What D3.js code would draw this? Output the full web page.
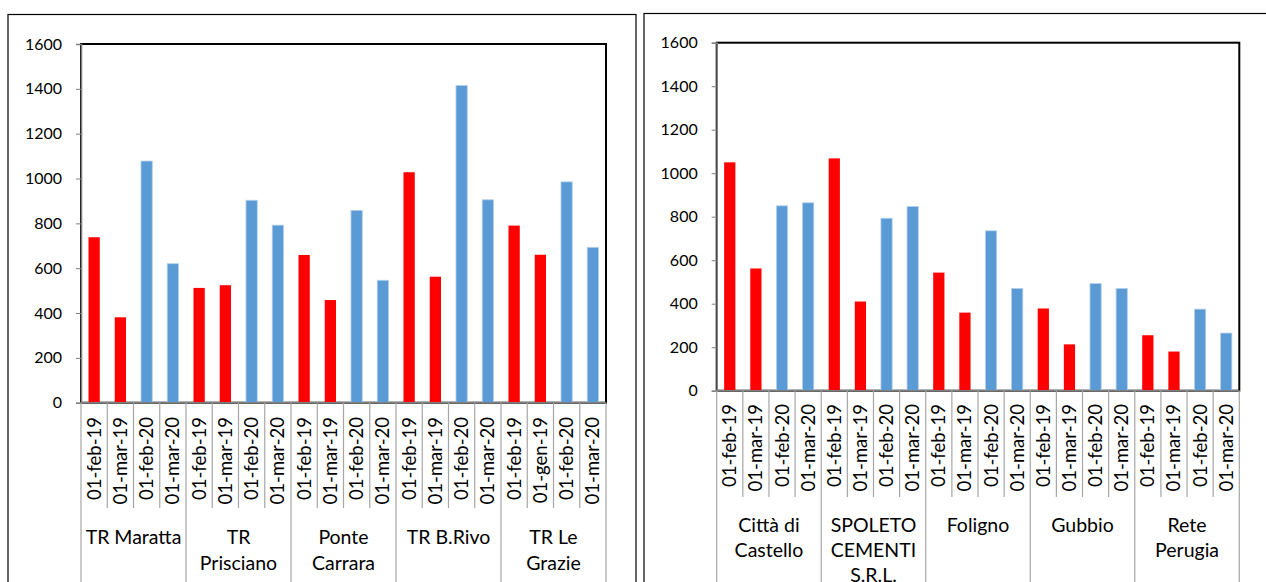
<!DOCTYPE html>
<html>
<head>
<meta charset="utf-8">
<script src="https://cdn.jsdelivr.net/npm/d3@7"></script>
<style>
  body { margin: 0; background: #fff; }
  svg { display: block; font-family: Lato, "Open Sans", sans-serif; }
  .frame { fill: none; stroke: #000; stroke-width: 1.2; }
  .plot { fill: none; stroke: #000; stroke-width: 2; }
  .grid { stroke: #a6a6a6; stroke-width: 1.2; }
  .axis { stroke: #808080; stroke-width: 1.6; }
</style>
</head>
<body>
<svg width="1266" height="582"></svg>
<script>
const yTicks = [0, 200, 400, 600, 800, 1000, 1200, 1400, 1600];

// left chart
const leftGroups = [["TR Maratta"], ["TR", "Prisciano"], ["Ponte", "Carrara"], ["TR B.Rivo"], ["TR Le", "Grazie"]];
const leftDates = [
    ["01-feb-19", "01-mar-19", "01-feb-20", "01-mar-20"],
    ["01-feb-19", "01-mar-19", "01-feb-20", "01-mar-20"],
    ["01-feb-19", "01-mar-19", "01-feb-20", "01-mar-20"],
    ["01-feb-19", "01-mar-19", "01-feb-20", "01-mar-20"],
    ["01-feb-19", "01-gen-19", "01-feb-20", "01-mar-20"]
];
const leftValues = [
    [738, 381, 1078, 620],
    [512, 524, 903, 792],
    [659, 458, 858, 546],
    [1028, 562, 1415, 905],
    [790, 660, 985, 693]
];

// right chart
const rightGroups = [["Città di", "Castello"], ["SPOLETO", "CEMENTI", "S.R.L."], ["Foligno"], ["Gubbio"], ["Rete", "Perugia"]];
const rightDates = [
    ["01-feb-19", "01-mar-19", "01-feb-20", "01-mar-20"],
    ["01-feb-19", "01-mar-19", "01-feb-20", "01-mar-20"],
    ["01-feb-19", "01-mar-19", "01-feb-20", "01-mar-20"],
    ["01-feb-19", "01-mar-19", "01-feb-20", "01-mar-20"],
    ["01-feb-19", "01-mar-19", "01-feb-20", "01-mar-20"]
];
const rightValues = [
    [1050, 562, 850, 864],
    [1068, 410, 793, 847],
    [543, 359, 735, 470],
    [378, 213, 493, 470],
    [255, 180, 375, 265]
];

const svg = d3.select("svg");

const drawChart = (cfg) => {
    const g = svg.append("g");

    const items = [];
    cfg.dates.forEach((ds, gi) => ds.forEach((d, j) => {
        items.push({ group: gi, date: d, value: cfg.values[gi][j], key: gi + "_" + j });
    }));

    const x = d3.scaleBand()
        .domain(items.map(d => d.key))
        .range([cfg.x0, cfg.x1])
        .padding(0);
    const y = d3.scaleLinear().domain([0, 1600]).range([cfg.y0, cfg.yTop]);
    const bw = x.bandwidth();

    // outer frame
    g.append("rect").attr("class", "frame")
     .attr("x", cfg.box[0]).attr("y", cfg.box[1])
     .attr("width", cfg.box[2]).attr("height", 700);

    // plot border
    g.append("rect").attr("class", "plot")
     .attr("x", cfg.x0).attr("y", y(1600))
     .attr("width", cfg.x1 - cfg.x0).attr("height", cfg.y0 - y(1600));

    // bars
    g.append("g").selectAll("rect")
     .data(items)
     .join("rect")
     .attr("x", d => x(d.key) + bw * 0.285)
     .attr("width", bw * 0.43)
     .attr("y", d => y(d.value))
     .attr("height", d => y(0) - y(d.value))
     .attr("fill", d => d.date.endsWith("19") ? "#ff0000" : "#5b9bd5")
     .attr("stroke", d => d.date.endsWith("19") ? "none" : "#b4cfea")
     .attr("stroke-width", 0.8);

    // y axis
    const yAxis = g.append("g")
        .attr("transform", `translate(${cfg.x0},0)`)
        .call(d3.axisLeft(y).tickValues(yTicks).tickFormat(d3.format("d")).tickSize(5).tickPadding(14));
    yAxis.select(".domain").attr("stroke", "#808080").attr("stroke-width", 1.6);
    yAxis.selectAll(".tick line").attr("stroke", "#808080");
    yAxis.selectAll("text")
         .attr("font-family", "Lato, sans-serif")
         .attr("font-size", 16)
         .attr("fill", "#000");

    // x axis line
    g.append("line").attr("class", "axis")
     .attr("x1", cfg.x0).attr("x2", cfg.x1)
     .attr("y1", cfg.y0).attr("y2", cfg.y0);

    // inner separators
    const bounds = d3.range(items.length + 1).map(i => cfg.x0 + i * bw);
    g.append("g").selectAll("line")
     .data(bounds)
     .join("line")
     .attr("class", "grid")
     .attr("x1", d => d).attr("x2", d => d)
     .attr("y1", cfg.y0)
     .attr("y2", (d, i) => i % 4 === 0 ? 600 : cfg.innerEnd);

    // rotated date labels
    g.append("g").selectAll("text")
     .data(items)
     .join("text")
     .attr("transform", d => `translate(${x(d.key) + bw / 2},${cfg.labelTop}) rotate(-90)`)
     .attr("text-anchor", "end")
     .attr("dy", "0.35em")
     .attr("font-size", 18.5)
     .attr("fill", "#000")
     .text(d => d.date);

    // group labels
    const gw = bw * 4;
    g.append("g").selectAll("text")
     .data(cfg.groups)
     .join("text")
     .attr("text-anchor", "middle")
     .attr("font-size", 19.5)
     .attr("fill", "#000")
     .attr("x", (d, i) => cfg.x0 + gw * i + gw / 2)
     .attr("y", cfg.groupY)
     .selectAll("tspan")
     .data(d => d)
     .join("tspan")
     .attr("x", function () { return d3.select(this.parentNode).attr("x"); })
     .attr("dy", (d, i) => i === 0 ? "0.35em" : cfg.lineH)
     .text(d => d);
};

drawChart({
    groups: leftGroups, dates: leftDates, values: leftValues,
    box: [8, 14.5, 628],
    x0: 81, x1: 606, yTop: 44, y0: 402.7,
    labelTop: 417, innerEnd: 508, groupY: 537, lineH: 26
});

drawChart({
    groups: rightGroups, dates: rightDates, values: rightValues,
    box: [644, 13.5, 700],
    x0: 716.7, x1: 1239.3, yTop: 42.7, y0: 390.7,
    labelTop: 404, innerEnd: 497, groupY: 525, lineH: 25
});
</script>
</body>
</html>
